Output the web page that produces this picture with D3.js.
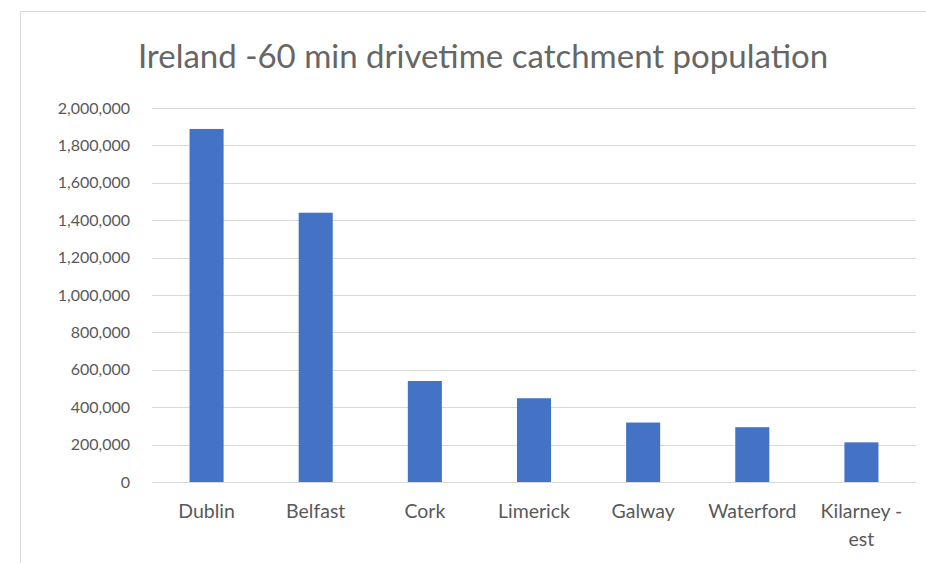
<!DOCTYPE html>
<html>
<head>
<meta charset="utf-8">
<script src="https://cdn.jsdelivr.net/npm/d3@7"></script>
<style>
  body { margin: 0; background: #fff; }
  text { font-family: Lato, "Open Sans", sans-serif; fill: #595959; }
</style>
</head>
<body>
<svg></svg>
<script>
// DATA
const cities = ["Dublin", "Belfast", "Cork", "Limerick", "Galway", "Waterford", "Kilarney - est"];
const population = [1888000, 1440000, 540000, 448000, 318000, 293000, 212000];
const yTicks = [0, 200000, 400000, 600000, 800000, 1000000, 1200000, 1400000, 1600000, 1800000, 2000000];
const chartTitle = "Ireland -60 min drivetime catchment population";

// PAGE SETUP
let W = 926, H = 563;
let margin = {top: 108, left: 152, right: 10, bottom: 81};
let width = W - margin.left - margin.right;
let height = H - margin.top - margin.bottom;

let svg = d3.select("svg")
  .attr("width", W)
  .attr("height", H);

// chart frame
svg.append("rect")
  .attr("x", 20.5).attr("y", 11.5)
  .attr("width", W + 10).attr("height", H + 10)
  .attr("fill", "#fff")
  .attr("stroke", "#d9d9d9");

svg.append("text")
  .attr("x", 483).attr("y", 68)
  .attr("text-anchor", "middle")
  .style("font-size", "33px")
  .attr("fill", "#666")
  .style("fill", "#666")
  .text(chartTitle);

let g = svg.append("g")
  .attr("transform", `translate(${margin.left},${margin.top})`);

// SCALES
let x = d3.scaleBand()
  .domain(cities)
  .range([0, width])
  .paddingInner(0.688)
  .paddingOuter(0.344);

let y = d3.scaleLinear()
  .domain([0, 2000000])
  .range([height, 0]);

// gridlines
g.selectAll(".grid")
  .data(yTicks)
  .enter()
  .append("line")
  .attr("class", "grid")
  .attr("x1", 0).attr("x2", width)
  .attr("y1", d => Math.round(y(d)) + 0.5)
  .attr("y2", d => Math.round(y(d)) + 0.5)
  .attr("stroke", "#d9d9d9")
  .attr("stroke-width", 1);

// y axis labels
let yAxis = g.append("g")
  .call(d3.axisLeft(y).tickValues(yTicks).tickFormat(d3.format(",")).tickSize(0).tickPadding(22));
yAxis.select(".domain").remove();
yAxis.selectAll("text")
  .style("font-size", "16px")
  .attr("fill", "#595959");

// bars
g.selectAll(".bar")
  .data(population)
  .enter()
  .append("rect")
  .attr("class", "bar")
  .attr("x", (d, i) => x(cities[i]))
  .attr("width", x.bandwidth())
  .attr("y", d => y(d))
  .attr("height", d => height - y(d))
  .attr("fill", "#4472c4");

// x axis labels
let xAxis = g.append("g")
  .attr("transform", `translate(0,${height})`)
  .call(d3.axisBottom(x).tickSize(0).tickPadding(22));
xAxis.select(".domain").remove();
xAxis.selectAll("text")
  .style("font-size", "19.5px")
  .attr("fill", "#595959")
  .call(wrap, 100);

// HELPER FUNCTIONS

function wrap(texts, maxWidth){
  texts.each(function(){
    let text = d3.select(this);
    let words = text.text().split(/\s+/);
    let yy = text.attr("y"), dy = parseFloat(text.attr("dy"));
    text.text(null);
    let line = [];
    let lineNo = 0;
    let tspan = text.append("tspan").attr("x", 0).attr("y", yy).attr("dy", dy + "em");
    words.forEach(function(w){
      line.push(w);
      tspan.text(line.join(" "));
      if (tspan.node().getComputedTextLength() > maxWidth && line.length > 1){
        line.pop();
        tspan.text(line.join(" "));
        line = [w];
        lineNo++;
        tspan = text.append("tspan").attr("x", 0).attr("y", yy)
          .attr("dy", (dy + lineNo * 1.45) + "em").text(w);
      }
    });
  });
}
</script>
</body>
</html>
